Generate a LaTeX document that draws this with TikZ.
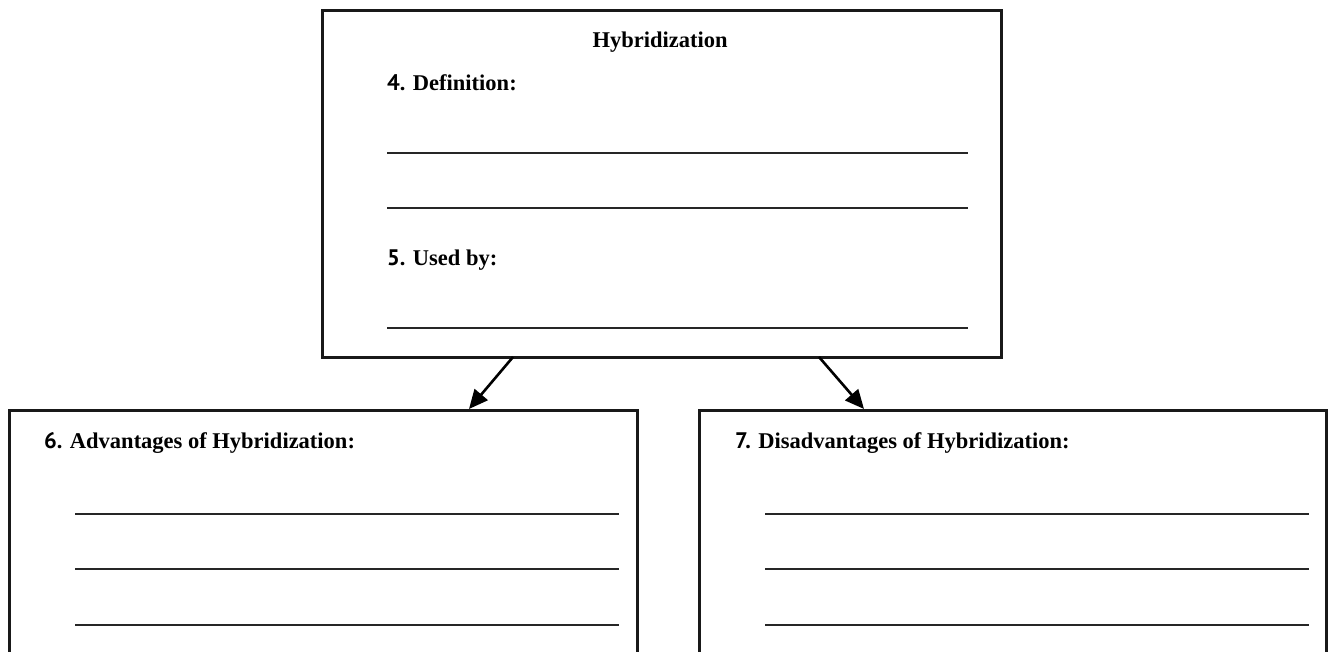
\documentclass[tikz,border=0pt]{standalone}
\usepackage{fontspec}
\setmainfont{Liberation Serif}
\newfontfamily\numfont{PT Sans}
\usetikzlibrary{arrows.meta}
\tikzset{
  box/.style={draw=black!90, line width=2.7pt, rectangle, inner sep=0pt, anchor=north west},
  lbl/.style={anchor=base west, inner sep=0pt, font=\fontsize{22.5}{26}\selectfont\bfseries},
  ttl/.style={anchor=base, inner sep=0pt, font=\fontsize{22.5}{26}\selectfont\bfseries},
  rule/.style={line width=1.4pt, draw=black!85},
  arr/.style={line width=2.6pt, -{Triangle[length=19pt,width=17pt]}},
}
\begin{document}
\begin{tikzpicture}[x=1pt,y=-1pt]
\useasboundingbox (0,0) rectangle (1331,651);
\clip (0,0) rectangle (1331,651);
\fill[white] (0,0) rectangle (1331,651);
% boxes
\node[box, minimum width=679pt, minimum height=347pt] (top) at (321,9) {};
\node[box, minimum width=628pt, minimum height=320pt] (left) at (8,409) {};
\node[box, minimum width=627pt, minimum height=320pt] (right) at (698,409) {};
% texts
\node[ttl] (t0) at (660,47) {Hybridization};
\node[lbl] (t4) at (387,90) {{\numfont 4.} Definition:};
\node[lbl] (t5) at (387,265) {{\numfont 5.} Used by:};
\node[lbl] (t6) at (44,448) {{\numfont 6.} Advantages of Hybridization:};
\node[lbl] (t7) at (735,448) {{\numfont 7.} Disadvantages of Hybridization:};
% writing lines
\draw[rule] (387,153) -- (968,153);
\draw[rule] (387,208) -- (968,208);
\draw[rule] (387,328) -- (968,328);
\foreach \yy in {514,569,625}{
  \draw[rule] (75,\yy) -- (619,\yy);
  \draw[rule] (765,\yy) -- (1309,\yy);
}
% connectors
\coordinate (a1) at (513,357);
\coordinate (b1) at (469,409);
\coordinate (a2) at (819,357);
\coordinate (b2) at (864,409);
\draw[arr] (a1) -- (b1);
\draw[arr] (a2) -- (b2);
\end{tikzpicture}
\end{document}
